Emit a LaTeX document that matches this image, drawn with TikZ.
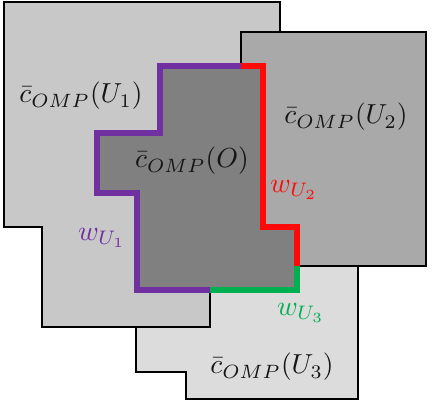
\documentclass[tikz,border=0pt]{standalone}
\usepackage{tikz}
\definecolor{PaleSet}{HTML}{DCDCDC}
\definecolor{LightSet}{HTML}{C8C8C8}
\definecolor{MidSet}{HTML}{A9A9A9}
\definecolor{DarkSet}{HTML}{808080}
\definecolor{Ink}{HTML}{141414}
\definecolor{Violet}{HTML}{7030A0}
\definecolor{Signal}{HTML}{FF0A0A}
\definecolor{Leaf}{HTML}{00B050}
\tikzset{
  setline/.style={draw=black,line width=2.8pt,line join=miter},
  border/.style={line width=5.8pt,line join=miter},
  setlabel/.style={text=Ink,inner sep=0pt,scale=2.75},
  wlabel/.style={inner sep=0pt,scale=2.8}
}

\begin{document}
\begin{tikzpicture}[x=1pt,y=-1pt]
        \useasboundingbox[fill=white] (0,0) rectangle (436,413);
        % the three neighbouring sets, bottom one first
        \filldraw[setline,fill=PaleSet] (136,260) -- (358,260) -- (358,399) -- (186,399) -- (186,372) -- (136,372) -- cycle;
        \filldraw[setline,fill=LightSet] (4,2) -- (280,2) -- (280,290) -- (210,290) -- (210,327) -- (42,327) -- (42,227) -- (4,227) -- cycle;
        \filldraw[setline,fill=MidSet] (241,32) rectangle (426,266);
        % the set O and its borders
        \fill[DarkSet] (160,66) -- (263,66) -- (263,227) -- (297,227) -- (297,290) -- (137,290) -- (137,193) -- (97,193) -- (97,133) -- (160,133) -- cycle;
        \draw[border,Violet] (210,290) -- (137,290) -- (137,193) -- (97,193) -- (97,133) -- (160,133) -- (160,66) -- (241,66);
        \draw[border,Signal] (241,66) -- (263,66) -- (263,227) -- (297,227) -- (297,266);
        \draw[border,Leaf] (297,266) -- (297,290) -- (210,290);
        \node[setlabel] (cu1) at (81,96) {$\bar{c}_{OMP}(U_1)$};
        \node[setlabel] (cu2) at (346,117) {$\bar{c}_{OMP}(U_2)$};
        \node[setlabel] (cu3) at (272,367) {$\bar{c}_{OMP}(U_3)$};
        \node[setlabel] (co) at (192,161) {$\bar{c}_{OMP}(O)$};
        \node[wlabel,text=Violet] (w1) at (102,238) {$w_{U_1}$};
        \node[wlabel,text=Signal] (w2) at (294,190) {$w_{U_2}$};
        \node[wlabel,text=Leaf] (w3) at (301,313) {$w_{U_3}$};
      \end{tikzpicture}
\end{document}
